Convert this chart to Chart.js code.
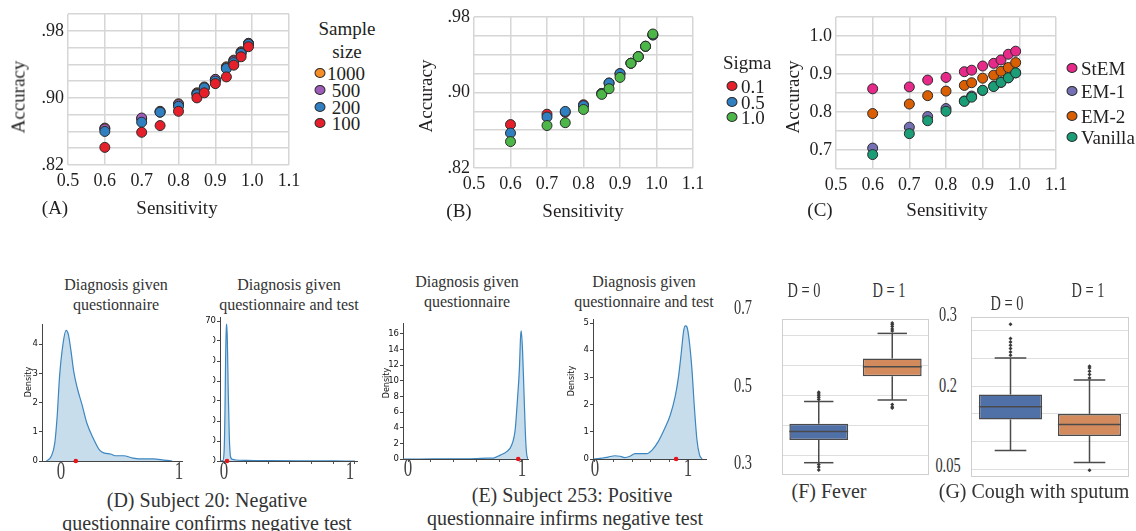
<!DOCTYPE html>
<html><head><meta charset="utf-8">
<script src="https://cdn.jsdelivr.net/npm/chart.js@4.4.1/dist/chart.umd.min.js"></script>
<style>
html,body{margin:0;padding:0;background:#fff}
body{width:1136px;height:531px;overflow:hidden;position:relative;font-family:'Liberation Serif','Times New Roman',serif;color:#231f20}
.box{position:absolute}
.box canvas{display:block}
.t{position:absolute;white-space:nowrap;line-height:1}
.dot{position:absolute;border-radius:50%;border:1px solid #2b2b2b;box-sizing:border-box;width:11px;height:10px;transform:translate(-50%,-50%)}
.mask{position:absolute;background:#fff}
</style></head><body>
<script>
// ---------------- DATA ----------------
const sensitivity = [0.6, 0.7, 0.75, 0.8, 0.85, 0.87, 0.9, 0.93, 0.95, 0.97, 0.99];
const sensTicks = [0.5, 0.6, 0.7, 0.8, 0.9, 1.0, 1.1];

// Panel A: sample size
const sampleSizes = ['1000', '500', '200', '100'];
const accA_1000 = [0.864, 0.875, 0.884, 0.893, 0.906, 0.913, 0.922, 0.937, 0.945, 0.955, 0.965];
const accA_500  = [0.863, 0.876, 0.883, 0.892, 0.905, 0.912, 0.922, 0.936, 0.944, 0.954, 0.965];
const accA_200  = [0.860, 0.871, 0.883, 0.890, 0.904, 0.912, 0.920, 0.935, 0.942, 0.953, 0.964];
const accA_100  = [0.841, 0.859, 0.867, 0.884, 0.900, 0.906, 0.917, 0.925, 0.939, 0.949, 0.961];
const yTicksA = [0.82, 0.84, 0.86, 0.88, 0.90, 0.92, 0.94, 0.96, 0.98, 1.00];
const yLabelValsAB = [0.82, 0.90, 0.98];
const yLabelTxtAB = ['.82', '.90', '.98'];

// Panel B: sigma
const sigmas = ['0.1', '0.5', '1.0'];
const accB_01 = [0.866, 0.877, 0.879, 0.887, 0.899, 0.910, 0.920, 0.931, 0.938, 0.949, 0.961];
const accB_05 = [0.857, 0.874, 0.880, 0.886, 0.899, 0.910, 0.920, 0.931, 0.938, 0.949, 0.961];
const accB_10 = [0.848, 0.865, 0.868, 0.882, 0.898, 0.904, 0.916, 0.931, 0.938, 0.949, 0.962];
const yTicksB = [0.82, 0.84, 0.86, 0.88, 0.90, 0.92, 0.94, 0.96, 0.98];

// Panel C: methods
const methods = ['StEM', 'EM-1', 'EM-2', 'Vanilla'];
const accC_StEM    = [0.861, 0.866, 0.884, 0.891, 0.906, 0.910, 0.921, 0.928, 0.937, 0.952, 0.960];
const accC_EM1     = [0.705, 0.760, 0.788, 0.809, 0.829, 0.842, 0.857, 0.868, 0.878, 0.890, 0.903];
const accC_EM2     = [0.796, 0.821, 0.843, 0.855, 0.870, 0.877, 0.889, 0.897, 0.907, 0.917, 0.930];
const accC_Vanilla = [0.688, 0.743, 0.777, 0.802, 0.828, 0.839, 0.857, 0.867, 0.878, 0.890, 0.903];
const yTicksC = [0.65, 0.70, 0.75, 0.80, 0.85, 0.90, 0.95, 1.00, 1.05];
const yLabelValsC = [0.7, 0.8, 0.9, 1.0];
const yLabelTxtC = ['0.7', '0.8', '0.9', '1.0'];

// Panel D: subject 20 densities
const dQx = [-0.12, -0.08, -0.05, -0.03, -0.01, 0.02, 0.045, 0.065, 0.085, 0.11, 0.14, 0.18, 0.22, 0.28, 0.33, 0.37, 0.42, 0.46, 0.53, 0.61, 0.70, 0.78, 0.87, 0.94];
const dQy = [0, 0.16, 0.62, 1.53, 2.89, 4.03, 4.47, 4.32, 3.81, 3.06, 2.49, 1.92, 1.30, 0.73, 0.36, 0.27, 0.24, 0.18, 0.18, 0.10, 0.07, 0.07, 0.03, 0];
const dQTx = [-0.046, -0.02, -0.008, 0.0, 0.006, 0.012, 0.016, 0.022, 0.03, 0.04, 0.052, 0.07, 0.1, 0.2, 0.4, 0.7, 1.0, 1.2];
const dQTy = [0, 0.2, 5, 25, 52, 66, 68.4, 60, 35, 12, 2, 0.8, 0.5, 0.3, 0.15, 0.06, 0.02, 0];
const dQobs = 0.127, dQTobs = 0.019;
const dQyTicks = [0, 1, 2, 3, 4];
const dQTyTicks = [0, 10, 20, 30, 40, 50, 60, 70];
const dQTxTicks = [0, 0.2, 0.4, 0.6, 0.8, 1.0, 1.2];

// Panel E: subject 253 densities
const eQx = [-0.044, 0.1, 0.3, 0.5, 0.6, 0.7, 0.75, 0.81, 0.866, 0.91, 0.94, 0.96, 0.977, 0.988, 0.994, 1.006, 1.018, 1.03, 1.04, 1.053];
const eQy = [0, 0, 0.01, 0.02, 0.05, 0.1, 0.12, 0.5, 0.94, 1.8, 3.7, 7.5, 11.4, 15.7, 16.4, 13.6, 8.4, 3.3, 0.8, 0];
const eQTx = [-0.018, 0.054, 0.14, 0.215, 0.27, 0.32, 0.376, 0.43, 0.556, 0.61, 0.68, 0.75, 0.806, 0.86, 0.896, 0.925, 0.95, 0.968, 0.986, 1.014, 1.04, 1.065, 1.093, 1.12, 1.147];
const eQTy = [0, 0.02, 0.07, 0.12, 0.10, 0.05, 0.10, 0.20, 0.20, 0.32, 0.65, 1.14, 1.6, 2.3, 3.04, 3.9, 4.7, 4.9, 4.86, 4.25, 3.27, 1.93, 0.71, 0.16, 0];
const eQobs = 0.967, eQTobs = 0.87;
const eQyTicks = [0, 2, 4, 6, 8, 10, 12, 14, 16];
const eQTyTicks = [0, 1, 2, 3, 4, 5];
const eXTicks = [0, 0.2, 0.4, 0.6, 0.8, 1.0];

// Panels F, G: box plots
const boxCats = ['D = 0', 'D = 1'];
const feverStats = { lo: [0.276, 0.485], q1: [0.352, 0.564], med: [0.380, 0.596], q3: [0.406, 0.623], hi: [0.480, 0.707],
  out: [[0.487, 0.493, 0.499, 0.505, 0.511, 0.270, 0.262, 0.252], [0.715, 0.722, 0.730, 0.737, 0.742, 0.470, 0.462, 0.458]] };
const coughStats = { lo: [0.084, 0.062], q1: [0.140, 0.110], med: [0.163, 0.131], q3: [0.185, 0.150], hi: [0.251, 0.211],
  out: [[0.256, 0.262, 0.268, 0.274, 0.280, 0.286, 0.312], [0.215, 0.221, 0.227, 0.233, 0.236, 0.048]] };
const yTicksF = [0.3, 0.4, 0.5, 0.6, 0.7];
const yTicksG = [0.05, 0.10, 0.15, 0.20, 0.25, 0.30];
const yLabelsF = ['0.7', '0.5', '0.3'];
const yLabelsG = ['0.3', '0.2', '0.05'];

// ---------------- STYLE ----------------
const SERIF = "'Liberation Serif', 'Times New Roman', serif";
const SANS = "'DejaVu Sans', sans-serif";
const TXT = '#231f20';
const GRID = '#d6d6d6';
const colA = ['#f68e27', '#9d5cb8', '#2f7fc1', '#e5202a'];
const colB = ['#e5202a', '#2f7fc1', '#4cb748'];
const colC = ['#e7298a', '#7570b3', '#d95f02', '#1b9e77'];
const BOXCOL = ['#5071a8', '#d38a5c'];
const BOXEDGE = '#4a4a4a';
const KDE_LINE = '#3b86c0';
const KDE_FILL = 'rgba(31,119,180,0.25)';

// ---------------- HELPERS ----------------
function mk(L, T, W, H, plot, cfg, z) {
  const div = document.createElement('div'); div.className = 'box';
  Object.assign(div.style, { left: L + 'px', top: T + 'px', width: W + 'px', height: H + 'px' });
  if (z) div.style.zIndex = z;
  const c = document.createElement('canvas'); div.appendChild(c); document.body.appendChild(div);
  const [pl, pt, pr, pb] = plot;
  const yW = pl - L, xH = T + H - pb;
  const o = cfg.options;
  o.layout = { padding: { top: pt - T, right: L + W - pr, left: 0, bottom: 0 } };
  o.responsive = true; o.maintainAspectRatio = false; o.animation = false;
  o.plugins = Object.assign({ legend: { display: false }, tooltip: { enabled: false } }, o.plugins || {});
  o.scales.x.afterFit = s => { s.height = xH; s.paddingLeft = 0; s.paddingRight = 0; };
  o.scales.y.afterFit = s => { s.width = yW; s.paddingTop = 0; s.paddingBottom = 0; };
  return new Chart(c, cfg);
}
function setTicks(arr) { return s => { s.ticks = arr.map(v => ({ value: v })); }; }
function labelFor(vals, txt) { return v => { const i = vals.findIndex(u => Math.abs(u - v) < 1e-6); return i < 0 ? '' : txt[i]; }; }

function txt(s, x, y, o = {}) {
  const d = document.createElement('div'); d.className = 't'; d.textContent = s;
  d.style.left = x + 'px'; d.style.top = y + 'px';
  d.style.fontSize = (o.size || 19) + 'px';
  if (o.font) d.style.fontFamily = o.font;
  if (o.color) d.style.color = o.color;
  let tr = o.left ? 'translate(0,-50%)' : 'translate(-50%,-50%)';
  if (o.rot) tr += ' rotate(' + o.rot + 'deg)';
  if (o.sx) tr += ' scaleX(' + o.sx + ')';
  d.style.transform = tr;
  if (o.left) d.style.transformOrigin = 'left center';
  if (o.z) d.style.zIndex = o.z;
  document.body.appendChild(d);
}
function dot(x, y, color) {
  const d = document.createElement('div'); d.className = 'dot';
  d.style.left = x + 'px'; d.style.top = y + 'px'; d.style.background = color;
  document.body.appendChild(d);
}

function scatterPanel(L, T, W, H, plot, series, yMin, yMax, yTicks, lblVals, lblTxt) {
  return mk(L, T, W, H, plot, {
    type: 'scatter',
    data: { datasets: series.map(s => ({
      data: sensitivity.map((x, i) => ({ x, y: s.values[i] })),
      pointRadius: 5, pointHoverRadius: 5, pointBackgroundColor: s.color,
      pointBorderColor: '#2b2b2b', pointBorderWidth: 1, order: s.order })) },
    options: { scales: {
      x: { type: 'linear', min: 0.5, max: 1.1, afterBuildTicks: setTicks(sensTicks),
        grid: { color: GRID, lineWidth: 1.5, drawTicks: false }, border: { display: false },
        ticks: { autoSkip: false, maxRotation: 0, padding: 5, color: TXT, font: { family: SERIF, size: 18 }, callback: v => v.toFixed(1) } },
      y: { type: 'linear', min: yMin, max: yMax, afterBuildTicks: setTicks(yTicks),
        grid: { color: GRID, lineWidth: 1.5, drawTicks: false }, border: { display: false },
        ticks: { autoSkip: false, padding: 4, color: TXT, font: { family: SERIF, size: 18 }, callback: labelFor(lblVals, lblTxt) } }
    } }
  });
}

function densityPanel(L, T, W, H, plot, xs, ys, obs, xMin, xMax, yMax, yTicks, xTicks, z) {
  return mk(L, T, W, H, plot, {
    type: 'line',
    data: { datasets: [
      { type: 'scatter', data: [{ x: obs, y: 0 }], pointRadius: 2.3, pointBackgroundColor: '#e8141b', pointBorderWidth: 0, order: 0, clip: 6 },
      { data: xs.map((x, i) => ({ x, y: ys[i] })), borderColor: KDE_LINE, borderWidth: 1.2, backgroundColor: KDE_FILL,
        fill: 'origin', pointRadius: 0, cubicInterpolationMode: 'monotone', order: 1 }
    ] },
    options: { scales: {
      x: { type: 'linear', min: xMin, max: xMax, afterBuildTicks: setTicks(xTicks || []),
        grid: { display: !!xTicks, drawOnChartArea: false, drawTicks: true, tickLength: 3, color: '#555' },
        border: { display: true, color: '#444', width: 1 }, ticks: { display: false } },
      y: { type: 'linear', min: 0, max: yMax, afterBuildTicks: setTicks(yTicks),
        grid: { display: true, drawOnChartArea: false, drawTicks: true, tickLength: 3, color: '#444' },
        border: { display: true, color: '#444', width: 1 },
        ticks: { autoSkip: false, padding: 1, color: '#111', font: { family: SANS, size: 8.5 } } }
    } }
  }, z);
}

function boxPanel(L, T, W, H, plot, st, yMin, yMax, yTicks) {
  const whisk = { id: 'whisk', afterDatasetsDraw(chart) {
    const { ctx } = chart; const y = chart.scales.y; const meta = chart.getDatasetMeta(1);
    ctx.save(); ctx.strokeStyle = BOXEDGE; ctx.lineWidth = 1.5;
    const line = (x1, y1, x2, y2) => { ctx.beginPath(); ctx.moveTo(x1, y1); ctx.lineTo(x2, y2); ctx.stroke(); };
    boxCats.forEach((c, i) => {
      const bar = meta.data[i]; const cx = bar.x, w = bar.width;
      const p = v => y.getPixelForValue(v);
      line(cx, p(st.q3[i]), cx, p(st.hi[i]));
      line(cx, p(st.q1[i]), cx, p(st.lo[i]));
      line(cx - w / 4, p(st.hi[i]), cx + w / 4, p(st.hi[i]));
      line(cx - w / 4, p(st.lo[i]), cx + w / 4, p(st.lo[i]));
      line(cx - w / 2, p(st.med[i]), cx + w / 2, p(st.med[i]));
    });
    ctx.restore();
  } };
  const frame = { id: 'frame', beforeDatasetsDraw(chart) {
    const a = chart.chartArea, ctx = chart.ctx;
    ctx.save(); ctx.strokeStyle = '#cfcfcf'; ctx.lineWidth = 1;
    ctx.strokeRect(a.left + 0.5, a.top + 0.5, a.width - 1, a.height - 1); ctx.restore();
  } };
  const outliers = [];
  st.out.forEach((arr, i) => arr.forEach(v => outliers.push({ x: boxCats[i], y: v })));
  return mk(L, T, W, H, plot, {
    type: 'bar',
    data: { labels: boxCats, datasets: [
      { type: 'scatter', data: outliers, pointStyle: 'rectRot', pointRadius: 2, backgroundColor: '#3a3a3a', borderColor: '#3a3a3a', borderWidth: 0, order: 0 },
      { data: boxCats.map((c, i) => [st.q1[i], st.q3[i]]), backgroundColor: BOXCOL, borderColor: BOXEDGE, borderWidth: 1.5,
        borderSkipped: false, barPercentage: 0.8, categoryPercentage: 1.0, order: 1 }
    ] },
    options: { scales: {
      x: { type: 'category', display: false, offset: true },
      y: { type: 'linear', min: yMin, max: yMax, afterBuildTicks: setTicks(yTicks),
        grid: { color: '#dedede', lineWidth: 1, drawTicks: false }, border: { display: false }, ticks: { display: false } }
    } },
    plugins: [frame, whisk]
  });
}

// ---------------- PANELS A, B, C ----------------
scatterPanel(0, 0, 300, 200, [68, 14, 289, 165], [
  { values: accA_1000, color: colA[0], order: 3 }, { values: accA_500, color: colA[1], order: 2 },
  { values: accA_200, color: colA[2], order: 1 }, { values: accA_100, color: colA[3], order: 0 }],
  0.82, 1.0, yTicksA, yLabelValsAB, yLabelTxtAB);
scatterPanel(395, 0, 315, 200, [474, 17, 693, 168], [
  { values: accB_01, color: colB[0], order: 2 }, { values: accB_05, color: colB[1], order: 1 },
  { values: accB_10, color: colB[2], order: 0 }],
  0.82, 0.98, yTicksB, yLabelValsAB, yLabelTxtAB);
scatterPanel(780, 0, 290, 200, [836, 17, 1056, 169], [
  { values: accC_StEM, color: colC[0], order: 3 }, { values: accC_EM1, color: colC[1], order: 2 },
  { values: accC_EM2, color: colC[2], order: 1 }, { values: accC_Vanilla, color: colC[3], order: 0 }],
  0.65, 1.05, yTicksC, yLabelValsC, yLabelTxtC);

txt('Accuracy', 18, 97, { rot: -90 }); txt('Sensitivity', 177, 207); txt('(A)', 55, 207);
txt('Accuracy', 425, 96, { rot: -90 }); txt('Sensitivity', 583, 210); txt('(B)', 459, 210);
txt('Accuracy', 792, 97, { rot: -90 }); txt('Sensitivity', 947, 209); txt('(C)', 820, 209);

// legends
txt('Sample', 347, 28); txt('size', 347, 51);
[73, 90, 107, 123].forEach((y, i) => { dot(320, y, colA[i]); txt(sampleSizes[i], 346, y, { size: 19 }); });
txt('Sigma', 723, 62, { left: true });
[86, 102, 117].forEach((y, i) => { dot(732, y, colB[i]); txt(sigmas[i], 741, y, { left: true }); });
[68, 91, 116, 137].forEach((y, i) => { dot(1072, y, colC[i]); txt(methods[i], 1081, y, { left: true }); });

// ---------------- PANELS D, E ----------------
densityPanel(190, 300, 180, 170, [220, 317, 357, 461], dQTx, dQTy, dQTobs, -0.046, 1.219, 72, dQTyTicks, dQTxTicks, 1);
const m = document.createElement('div'); m.className = 'mask';
Object.assign(m.style, { left: '184px', top: '328px', width: '29px', height: '145px', zIndex: 2 });
document.body.appendChild(m);
densityPanel(0, 300, 200, 170, [42, 324, 182, 461], dQx, dQy, dQobs, -0.158, 1.023, 4.69, dQyTicks, null, 3);
densityPanel(370, 300, 170, 170, [403, 323, 528, 459], eQx, eQy, eQobs, -0.044, 1.053, 17.4, eQyTicks, eXTicks, 1);
densityPanel(560, 300, 160, 170, [593, 319, 706, 459], eQTx, eQTy, eQTobs, -0.02, 1.19, 5.15, eQTyTicks, eXTicks, 1);

const DT = { size: 16, color: '#333' };
txt('Diagnosis given', 116, 285, DT); txt('questionnaire', 116, 305, DT);
txt('Diagnosis given', 289, 285, DT); txt('questionnaire and test', 289, 305, DT);
txt('Diagnosis given', 467, 282, DT); txt('questionnaire', 467, 302, DT);
txt('Diagnosis given', 644, 282, DT); txt('questionnaire and test', 644, 302, DT);
const DL = { size: 8, font: SANS, color: '#111', rot: -90, z: 4 };
txt('Density', 29, 382, DL); txt('Density', 387, 383, DL); txt('Density', 572, 381, DL);
const BIG = { size: 26, sx: 0.65, color: '#444', z: 4 };
txt('0', 61, 471, BIG); txt('1', 179, 471, BIG); txt('0', 224, 471, BIG); txt('1', 350, 471, BIG);
txt('0', 408, 468, BIG); txt('1', 522, 468, BIG); txt('0', 595, 468, BIG); txt('1', 688, 468, BIG);
const CAP = { size: 20, color: '#333' };
txt('(D) Subject 20: Negative', 207, 500, CAP); txt('questionnaire confirms negative test', 207, 523, CAP);
txt('(E) Subject 253: Positive', 572, 495, CAP); txt('questionnaire infirms negative test', 565, 518, CAP);

// ---------------- PANELS F, G ----------------
boxPanel(778, 315, 155, 164, [780, 317, 931, 477], feverStats, 0.235, 0.755, yTicksF);
boxPanel(967, 313, 166, 168, [969, 315, 1130, 479], coughStats, 0.036, 0.325, yTicksG);
const BX = { size: 20, sx: 0.72, color: '#333' };
txt(boxCats[0], 804, 290, BX); txt(boxCats[1], 889, 290, BX);
txt(boxCats[0], 1007, 303, BX); txt(boxCats[1], 1088, 290, BX);
[307, 385, 462].forEach((y, i) => txt(yLabelsF[i], 743, y, BX));
[314, 385, 465].forEach((y, i) => txt(yLabelsG[i], 948, y, BX));
txt('(F) Fever', 829, 491, CAP); txt('(G) Cough with sputum', 1034, 491, CAP);
</script>
</body></html>
